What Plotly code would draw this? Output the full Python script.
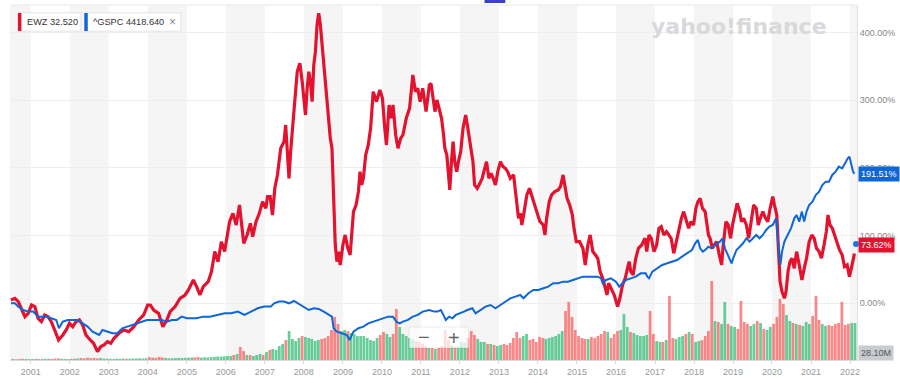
import numpy as np
import pandas as pd
import plotly.graph_objects as go
from datetime import datetime

# ---------------- data ----------------
# EWZ, % change since start (decimal year, percent)
ewz_t = [2000.492, 2000.594, 2000.679, 2000.763, 2000.848, 2000.933, 2001.017, 2001.102, 2001.186, 2001.271,
         2001.356, 2001.440, 2001.525, 2001.610, 2001.711, 2001.821, 2001.906, 2001.991, 2002.075, 2002.160,
         2002.245, 2002.329, 2002.414, 2002.524, 2002.609, 2002.710, 2002.795, 2002.880, 2002.964, 2003.049,
         2003.134, 2003.260, 2003.387, 2003.514, 2003.641, 2003.768, 2003.895, 2003.997, 2004.065, 2004.149,
         2004.276, 2004.386, 2004.488, 2004.572, 2004.699, 2004.826, 2004.953, 2005.038, 2005.165, 2005.250,
         2005.334, 2005.419, 2005.546, 2005.631, 2005.715,
         2005.799, 2005.884, 2005.968, 2006.053, 2006.095, 2006.180, 2006.265, 2006.349, 2006.408, 2006.459,
         2006.544, 2006.629, 2006.688, 2006.773, 2006.857, 2006.942, 2007.026, 2007.069, 2007.136, 2007.196,
         2007.255, 2007.323, 2007.407, 2007.492, 2007.534, 2007.577, 2007.619, 2007.661, 2007.729, 2007.788,
         2007.831, 2007.898, 2007.958, 2008.000, 2008.042, 2008.085, 2008.127, 2008.169, 2008.212, 2008.254,
         2008.296, 2008.338, 2008.381, 2008.423, 2008.466, 2008.508, 2008.550, 2008.592, 2008.635, 2008.677,
         2008.719, 2008.762, 2008.804, 2008.846, 2008.889, 2008.931, 2008.999, 2009.058, 2009.126, 2009.185,
         2009.227, 2009.270, 2009.337, 2009.397, 2009.439, 2009.481, 2009.524, 2009.583, 2009.650, 2009.710,
         2009.777, 2009.862, 2009.947, 2010.014, 2010.074, 2010.116, 2010.184, 2010.243, 2010.285, 2010.353,
         2010.412, 2010.480, 2010.539, 2010.624, 2010.709, 2010.793, 2010.861, 2010.920, 2010.980, 2011.047,
         2011.132, 2011.217,
         2011.259, 2011.327, 2011.361, 2011.411, 2011.471, 2011.530, 2011.581, 2011.614, 2011.665, 2011.699,
         2011.741, 2011.784, 2011.826, 2011.868, 2011.919, 2011.962, 2012.021, 2012.080, 2012.148, 2012.190,
         2012.249, 2012.292, 2012.334, 2012.376, 2012.444, 2012.512, 2012.571, 2012.613, 2012.681, 2012.740,
         2012.800, 2012.850, 2012.910, 2012.969, 2013.037, 2013.104, 2013.164, 2013.223, 2013.291, 2013.375,
         2013.443, 2013.502, 2013.545, 2013.587, 2013.646, 2013.714, 2013.782, 2013.841, 2013.900, 2013.968,
         2014.052, 2014.137, 2014.179, 2014.222, 2014.289, 2014.349, 2014.433, 2014.518, 2014.577, 2014.645,
         2014.687, 2014.746, 2014.814, 2014.882, 2014.924, 2014.983, 2015.068, 2015.153, 2015.212, 2015.280,
         2015.339, 2015.407, 2015.475, 2015.534, 2015.593, 2015.661, 2015.728, 2015.771, 2015.813, 2015.872,
         2015.957, 2016.042, 2016.101, 2016.169, 2016.237, 2016.296, 2016.338, 2016.381, 2016.440, 2016.507,
         2016.575, 2016.659, 2016.744,
         2016.787, 2016.846, 2016.905, 2016.973, 2017.041, 2017.100, 2017.159, 2017.227, 2017.295, 2017.354,
         2017.413, 2017.481, 2017.549, 2017.608, 2017.676, 2017.735, 2017.794, 2017.862, 2017.921, 2017.989,
         2018.048, 2018.099, 2018.158, 2018.217, 2018.285, 2018.327, 2018.370, 2018.412, 2018.471, 2018.522,
         2018.581, 2018.649, 2018.708, 2018.750, 2018.818, 2018.877, 2018.937, 2018.987, 2019.047, 2019.106,
         2019.174, 2019.216, 2019.275, 2019.343, 2019.402, 2019.470, 2019.529, 2019.597, 2019.648, 2019.699,
         2019.766, 2019.834, 2019.893, 2019.953, 2020.020, 2020.063, 2020.122, 2020.173, 2020.206, 2020.257,
         2020.317, 2020.359, 2020.410, 2020.460, 2020.511, 2020.570, 2020.630, 2020.697, 2020.765, 2020.824,
         2020.884, 2020.951, 2021.019, 2021.078, 2021.138, 2021.205, 2021.265, 2021.332, 2021.391, 2021.434,
         2021.485, 2021.544, 2021.603, 2021.671, 2021.730, 2021.798, 2021.857, 2021.925, 2021.984, 2022.052,
         2022.112]
ewz_pct = [4.9, 7.4, 2.5, -9.9, -19.7, -14.8, -2.5, -4.9, -22.2, -27.1,
           -17.2, -19.7, -27.1, -39.4, -54.2, -46.8, -39.4, -29.6, -34.5, -27.1,
           -24.6, -32.0, -46.8, -54.2, -59.1, -71.4, -64.0, -61.6, -56.7, -59.1,
           -51.7, -44.3, -39.4, -41.9, -34.5, -24.6, -17.2, -2.5, -2.5, -9.9,
           -14.8, -34.5, -24.6, -12.3, -4.9, 7.4, 12.3, 19.7, 34.5, 24.6,
           12.3, 24.6, 32.0, 46.8, 76.4,
           61.6, 91.1, 76.4, 105.9, 120.7, 133.0, 115.8, 145.3, 115.8, 88.7,
           101.0, 118.2, 98.5, 120.7, 133.0, 150.2, 140.4, 157.6, 157.6, 130.5,
           170.0, 189.7, 229.1, 238.9, 263.5, 229.1, 184.7, 224.1, 278.3, 312.8,
           342.4, 354.7, 327.6, 303.0, 278.3, 317.7, 342.4, 327.6, 298.0, 352.2,
           371.9, 411.3, 428.6, 411.3, 381.8, 352.2, 322.7, 307.9, 278.3, 243.8,
           229.1, 145.3, 86.2, 61.6, 76.4, 56.7, 86.2, 101.0, 81.3, 71.4,
           105.9, 135.5, 145.3, 165.0, 194.6, 174.9, 184.7, 219.2, 234.0, 258.6,
           312.8, 298.0, 315.3, 303.0, 258.6, 234.0, 293.1, 273.4, 293.1, 248.8,
           229.1, 243.8, 248.8, 273.4, 288.2, 337.4, 312.8, 317.7, 298.0, 317.7,
           283.3, 322.7,
           325.1, 298.0, 283.3, 300.5, 288.2, 273.4, 248.8, 229.1, 219.2, 194.6,
           167.5, 209.4, 238.9, 209.4, 194.6, 209.4, 224.1, 258.6, 278.3, 263.5,
           238.9, 229.1, 209.4, 174.9, 170.0, 177.3, 184.7, 194.6, 209.4, 184.7,
           192.1, 184.7, 174.9, 194.6, 209.4, 202.0, 199.5, 194.6, 184.7, 189.7,
           160.1, 125.6, 133.0, 115.8, 135.5, 160.1, 170.0, 160.1, 150.2, 135.5,
           120.7, 115.8, 101.0, 125.6, 150.2, 160.1, 165.0, 167.5, 172.4, 189.7,
           174.9, 155.2, 145.3, 130.5, 110.8, 91.1, 91.1, 81.3, 56.7, 86.2,
           101.0, 76.4, 71.4, 66.5, 46.8, 36.9, 22.2, 12.3, 29.6, 22.2,
           12.3, -4.9, 7.4, 27.1, 36.9, 51.7, 61.6, 46.8, 41.9, 66.5,
           81.3, 86.2, 96.1,
           76.4, 101.0, 96.1, 76.4, 86.2, 110.8, 113.3, 101.0, 105.9, 101.0,
           96.1, 73.9, 91.1, 110.8, 125.6, 135.5, 125.6, 110.8, 120.7, 115.8,
           140.4, 150.2, 155.2, 140.4, 135.5, 120.7, 101.0, 96.1, 81.3, 86.2,
           91.1, 71.4, 56.7, 86.2, 120.7, 115.8, 96.1, 115.8, 130.5, 147.8,
           135.5, 120.7, 125.6, 115.8, 96.1, 125.6, 145.3, 140.4, 115.8, 125.6,
           135.5, 125.6, 120.7, 140.4, 157.6, 145.3, 130.5, 71.4, 32.0, 17.2,
           7.4, 17.2, 46.8, 61.6, 66.5, 51.7, 76.4, 56.7, 34.5, 51.7,
           66.5, 91.1, 101.0, 96.1, 81.3, 76.4, 66.5, 86.2, 105.9, 130.5,
           115.8, 110.8, 101.0, 91.1, 78.8, 71.4, 54.2, 56.7, 39.4, 56.7,
           73.62]

# ^GSPC, % change since start
spx_t = [2000.492, 2000.594, 2000.679, 2000.806, 2000.933, 2001.060, 2001.186, 2001.271, 2001.398, 2001.525,
         2001.652, 2001.720, 2001.821, 2001.948, 2002.075, 2002.202, 2002.329, 2002.456, 2002.583, 2002.753,
         2002.837, 2002.964, 2003.091, 2003.218, 2003.345, 2003.472, 2003.599, 2003.726, 2003.853, 2003.980,
         2004.107, 2004.234, 2004.361, 2004.488, 2004.615, 2004.742, 2004.869, 2004.996, 2005.123, 2005.250,
         2005.419, 2005.588,
         2005.968, 2006.137, 2006.307, 2006.476, 2006.645, 2006.814, 2006.984, 2007.153, 2007.238, 2007.365,
         2007.492, 2007.619, 2007.746, 2007.873, 2008.000, 2008.127, 2008.254, 2008.381, 2008.508, 2008.635,
         2008.719, 2008.762, 2008.846, 2008.973, 2009.100, 2009.168, 2009.270, 2009.397, 2009.524, 2009.650,
         2009.777, 2009.904, 2010.031, 2010.158, 2010.285, 2010.370, 2010.455, 2010.539, 2010.666, 2010.793,
         2010.920, 2011.047, 2011.217,
         2011.344, 2011.428, 2011.513, 2011.598, 2011.640, 2011.725, 2011.809, 2011.894, 2012.021, 2012.105,
         2012.190, 2012.317, 2012.402, 2012.529, 2012.656, 2012.783, 2012.910, 2013.037, 2013.164, 2013.291,
         2013.418, 2013.545, 2013.629, 2013.756, 2013.883, 2014.010, 2014.137, 2014.264, 2014.391, 2014.518,
         2014.645, 2014.772, 2014.899, 2015.026, 2015.153, 2015.280, 2015.407, 2015.534, 2015.618, 2015.661,
         2015.745, 2015.872, 2015.999, 2016.084, 2016.169, 2016.253, 2016.380, 2016.507, 2016.634, 2016.761,
         2016.804, 2016.846, 2016.931, 2017.058, 2017.185, 2017.312, 2017.439, 2017.565, 2017.692, 2017.819,
         2017.946, 2018.031, 2018.099, 2018.158, 2018.226, 2018.285, 2018.370, 2018.454, 2018.539, 2018.666,
         2018.734, 2018.793, 2018.878, 2018.962, 2019.005, 2019.089, 2019.174, 2019.258, 2019.343, 2019.428,
         2019.512, 2019.597, 2019.682, 2019.766, 2019.851, 2019.935, 2020.020, 2020.105, 2020.147, 2020.215,
         2020.257, 2020.317, 2020.401, 2020.486, 2020.570, 2020.630, 2020.697, 2020.765, 2020.824, 2020.884,
         2020.951, 2021.036, 2021.120, 2021.205, 2021.290, 2021.374, 2021.459, 2021.544, 2021.628, 2021.713,
         2021.798, 2021.882, 2021.942, 2021.984, 2022.035, 2022.077, 2022.112]
spx_pct = [0.0, 0.0, -4.9, -9.9, -12.3, -12.3, -19.7, -19.7, -19.7, -22.2,
           -24.6, -36.9, -27.1, -24.6, -24.6, -24.6, -29.6, -34.5, -41.9, -46.8,
           -39.4, -41.9, -44.3, -44.3, -36.9, -34.5, -32.0, -29.6, -27.1, -24.6,
           -24.6, -24.6, -24.6, -27.1, -24.6, -24.6, -19.7, -22.2, -22.2, -22.2,
           -19.7, -19.7,
           -14.8, -14.8, -12.3, -17.2, -12.3, -7.4, -4.9, -4.9, 0.0, 2.5,
           2.5, 0.0, 3.4, -1.0, -4.9, -9.9, -7.4, -8.4, -12.3, -17.2,
           -19.7, -36.9, -41.9, -44.3, -46.8, -54.2, -41.9, -36.9, -34.5, -29.6,
           -27.1, -24.6, -22.2, -19.7, -19.7, -27.1, -29.6, -27.1, -24.6, -19.7,
           -17.2, -12.3, -9.9,
           -12.3, -12.3, -9.9, -19.7, -24.6, -19.7, -22.2, -17.2, -14.8, -12.3,
           -9.9, -7.4, -14.8, -9.9, -4.9, -2.5, -7.4, -2.5, 2.5, 7.4,
           9.9, 12.3, 7.4, 14.8, 19.7, 19.7, 22.2, 24.6, 29.6, 29.6,
           32.0, 32.0, 34.5, 36.9, 39.4, 39.4, 39.4, 39.4, 36.9, 29.6,
           34.5, 36.9, 32.0, 24.6, 29.6, 34.5, 36.9, 39.4, 44.3, 44.3,
           39.4, 36.9, 46.8, 51.7, 56.7, 59.1, 61.6, 64.0, 69.0, 73.9,
           78.8, 88.7, 93.6, 81.3, 76.4, 78.8, 83.7, 81.3, 86.2, 91.1,
           96.1, 81.3, 71.4, 59.1, 66.5, 78.8, 83.7, 88.7, 96.1, 91.1,
           96.1, 101.0, 96.1, 101.0, 108.4, 113.3, 115.8, 125.6, 96.1, 56.7,
           76.4, 91.1, 101.0, 110.8, 125.6, 130.5, 120.7, 135.5, 120.7, 135.5,
           145.3, 150.2, 160.1, 165.0, 174.9, 179.8, 179.8, 189.7, 194.6, 202.0,
           199.5, 209.4, 214.3, 216.7, 204.4, 194.6, 191.51]

# EWZ volume, millions of shares per month, starting July 2000
vol_start = "2000-07-01"
vol_m = [0.8, 0.6, 0.7, 0.9, 0.8, 0.7,
         0.8, 0.9, 0.7, 0.8, 1.0, 0.9, 0.8, 1.1, 1.2, 0.9, 0.8, 0.7,
         0.9, 1.0, 1.2, 1.5, 1.3, 1.8, 1.4, 1.6, 1.2, 1.5, 1.1, 1.0,
         0.9, 0.8, 0.9, 1.0, 1.1, 0.9, 1.0, 1.2, 1.1, 1.3, 1.2, 1.4,
         2.2, 1.8, 1.6, 2.4, 2.0, 1.5, 1.3, 1.4, 1.5, 1.6, 1.5, 1.7,
         1.8, 1.9, 2.0, 2.3, 1.8, 2.0, 1.9, 2.2, 2.4, 2.6, 2.5, 2.8,
         3.0, 3.0, 3.8, 4.6, 9.9, 6.8, 3.8, 3.8, 3.0, 3.8, 4.6, 3.8,
         6.1, 7.6, 8.4, 7.6, 10.6, 12.2, 15.2, 22.0, 16.0, 14.4, 16.7, 18.2,
         17.5, 16.7, 16.0, 14.4, 15.2, 16.0, 16.7, 18.2, 22.8, 32.7, 27.4, 22.0,
         22.8, 22.0, 20.5, 19.8, 18.2, 18.2, 18.2, 16.7, 15.2, 14.4, 16.7, 19.0,
         21.3, 19.8, 17.5, 19.8, 38.8, 25.1, 19.8, 18.2, 16.7, 16.0, 14.4, 13.7,
         12.2, 10.6, 9.1, 9.1, 8.4, 9.1, 10.6, 22.8, 15.2, 11.4, 9.9, 9.9,
         13.7, 12.9, 16.7, 22.0, 19.0, 16.0, 13.7, 13.7, 12.2, 12.2, 11.4, 10.6,
         11.4, 12.2, 11.4, 12.9, 16.7, 21.3, 16.7, 18.2, 19.8, 15.2, 16.0, 13.7,
         17.5, 16.7, 16.0, 16.7, 17.5, 18.2, 19.8, 22.0, 37.2, 44.1, 32.7, 22.8,
         18.2, 16.7, 16.0, 16.0, 17.5, 16.7, 18.2, 19.8, 22.0, 21.3, 16.7, 19.8,
         22.0, 22.8, 35.0, 25.1, 21.3, 20.5, 19.0, 18.2, 18.2, 19.0, 37.2, 19.8,
         14.4, 13.7, 13.7, 15.2, 48.6, 16.7, 16.0, 17.5, 18.2, 19.8, 21.3, 19.8,
         13.7, 14.4, 15.2, 18.2, 22.0, 60.0, 29.6, 28.9, 27.4, 44.1, 27.4, 25.8,
         25.1, 23.6, 44.8, 28.9, 27.4, 25.8, 27.4, 29.6, 28.1, 23.6, 22.8, 25.1,
         27.4, 32.7, 46.4, 42.6, 34.2, 29.6, 28.1, 27.4, 26.6, 25.8, 28.9, 27.4,
         33.4, 48.6, 30.4, 27.4, 25.8, 26.6, 25.8, 27.4, 28.1, 44.1, 26.6, 27.4,
         28.1, 28.10]

year_ticks = list(range(2001, 2023))
pct_ticks = [0, 100, 200, 300, 400]
x_start, x_end = 2000.467, 2022.178

RED = "#e3132f"
BLUE = "#0f66d6"


def dec_to_dt(y):
    yr = int(np.floor(y))
    a, b = datetime(yr, 1, 1), datetime(yr + 1, 1, 1)
    return a + (b - a) * (y - yr)


ewz_x = [dec_to_dt(v) for v in ewz_t]
spx_x = [dec_to_dt(v) for v in spx_t]

months = pd.date_range(vol_start, periods=len(vol_m), freq="MS")
vol_x = months + pd.Timedelta(days=15)


def to_dec(ts):
    return ts.year + (ts.dayofyear - 1) / (366 if ts.is_leap_year else 365)


vcol = []
for m in months:
    a = to_dec(m)
    b = to_dec(m + pd.offsets.MonthEnd(0))
    up = np.interp(b, ewz_t, ewz_pct) >= np.interp(a, ewz_t, ewz_pct)
    vcol.append("rgba(40,185,110,0.7)" if up else "rgba(250,85,85,0.7)")

# ---------------- figure ----------------
W, H = 900, 383
ML, MR, MT, MB = 10, 35, 5, 23
PW, PH = W - ML - MR, H - MT - MB


def px(xp):
    return (xp - ML) / PW


def py(yp):
    return (H - MB - yp) / PH


fig = go.Figure()
fig.add_trace(go.Bar(x=vol_x, y=vol_m, marker=dict(color=vcol, line=dict(width=0)),
                     width=26 * 86400000, yaxis="y", hoverinfo="skip"))
fig.add_trace(go.Scatter(x=ewz_x, y=ewz_pct, mode="lines", yaxis="y2",
                         line=dict(color=RED, width=3.2), hoverinfo="skip"))
fig.add_trace(go.Scatter(x=spx_x, y=spx_pct, mode="lines", yaxis="y2",
                         line=dict(color=BLUE, width=2), hoverinfo="skip"))

shapes = []
# alternating year bands (even years shaded)
band_edges = [x_start] + year_ticks + [x_end]
for i in range(len(band_edges) - 1):
    y0 = int(np.floor(band_edges[i]))
    if y0 % 2 == 0:
        shapes.append(dict(type="rect", xref="x", yref="paper",
                           x0=dec_to_dt(band_edges[i]), x1=dec_to_dt(band_edges[i + 1]),
                           y0=0, y1=1, fillcolor="#f5f5f5", line=dict(width=0), layer="below"))
# top border
shapes.append(dict(type="line", xref="paper", yref="paper", x0=0, x1=1, y0=1, y1=1,
                   line=dict(color="#e8e8e8", width=1)))
# legend chips
for (x0, x1, col) in [(18, 81, RED), (85, 182, BLUE)]:
    shapes.append(dict(type="rect", xref="paper", yref="paper", x0=px(x0), x1=px(x1) + 0.0015,
                       y0=py(32), y1=py(12), fillcolor="rgba(0,0,0,0.05)", line=dict(width=0)))
    shapes.append(dict(type="rect", xref="paper", yref="paper", x0=px(x0), x1=px(x1),
                       y0=py(31), y1=py(13), fillcolor="white", line=dict(color="#ececec", width=1)))
    shapes.append(dict(type="rect", xref="paper", yref="paper", x0=px(x0), x1=px(x0 + 3.5),
                       y0=py(31), y1=py(13), fillcolor=col, line=dict(width=0)))
# zoom widget
shapes.append(dict(type="rect", xref="paper", yref="paper", x0=px(413), x1=px(473),
                   y0=py(348), y1=py(327), fillcolor="rgba(255,255,255,0.72)",
                   line=dict(color="rgba(0,0,0,0.07)", width=1)))
# top blue marker
shapes.append(dict(type="rect", xref="paper", yref="paper", x0=px(489), x1=px(510),
                   y0=py(3), y1=py(0), fillcolor="#3c3fd6", line=dict(width=0)))
# blue dot at right edge
shapes.append(dict(type="circle", xref="paper", yref="paper", x0=px(861), x1=px(867),
                   y0=py(247), y1=py(241), fillcolor="#1a73e8", line=dict(width=0)))

FONT = "Liberation Sans, Arial, sans-serif"
ann = []
ann.append(dict(text="EWZ 32.520", x=px(25), y=py(22), xref="paper", yref="paper",
                xanchor="left", yanchor="middle", showarrow=False,
                font=dict(size=9.2, color="#333", family=FONT)))
ann.append(dict(text="^GSPC 4418.640", x=px(92), y=py(22), xref="paper", yref="paper",
                xanchor="left", yanchor="middle", showarrow=False,
                font=dict(size=9.2, color="#333", family=FONT)))
ann.append(dict(text="×", x=px(174), y=py(22), xref="paper", yref="paper",
                xanchor="center", yanchor="middle", showarrow=False,
                font=dict(size=12, color="#888", family=FONT)))
ann.append(dict(text="<b>yahoo!finance</b>", x=px(746), y=py(26), xref="paper", yref="paper",
                xanchor="center", yanchor="middle", showarrow=False,
                font=dict(size=22, color="#d9d9dc", family="DejaVu Sans")))
ann.append(dict(text="−", x=px(428), y=py(337), xref="paper", yref="paper",
                xanchor="center", yanchor="middle", showarrow=False,
                font=dict(size=20, color="#666", family=FONT)))
ann.append(dict(text="+", x=px(458), y=py(338), xref="paper", yref="paper",
                xanchor="center", yanchor="middle", showarrow=False,
                font=dict(size=20, color="#666", family=FONT)))
ann.append(dict(text=f"{spx_pct[-1]:.2f}%", x=px(866), y=spx_pct[-1], xref="paper", yref="y2",
                xanchor="left", yanchor="middle", showarrow=False, bgcolor="#0f66d6",
                borderpad=2, font=dict(size=9, color="white", family=FONT)))
ann.append(dict(text=f"{ewz_pct[-1]:.2f}%", x=px(866), y=ewz_pct[-1], yshift=8, xref="paper", yref="y2",
                xanchor="left", yanchor="middle", showarrow=False, bgcolor="#e3132f",
                borderpad=2, font=dict(size=9, color="white", family=FONT)))
ann.append(dict(text=f"{vol_m[-1]:.2f}M", x=px(866), y=py(353), xref="paper", yref="paper",
                xanchor="left", yanchor="middle", showarrow=False, bgcolor="#c9cbd0",
                borderpad=2, font=dict(size=9, color="#555", family=FONT)))

y2_lo = -83.8
y2_hi = 440.9
fig.update_layout(
    width=W, height=H, margin=dict(l=ML, r=MR, t=MT, b=MB),
    paper_bgcolor="white", plot_bgcolor="white", showlegend=False,
    hovermode=False, bargap=0.1,
    font=dict(family=FONT),
    shapes=shapes, annotations=ann,
    xaxis=dict(type="date", range=[dec_to_dt(x_start), dec_to_dt(x_end)],
               tickvals=[datetime(y, 1, 1) for y in year_ticks],
               ticktext=[str(y) for y in year_ticks],
               showgrid=False, zeroline=False, showline=True, linecolor="#dcdcdc",
               ticks="outside", ticklen=3, tickcolor="#d8d8d8",
               tickfont=dict(size=9, color="#999", family=FONT)),
    yaxis=dict(range=[0, 269.6], visible=False, fixedrange=True),
    yaxis2=dict(overlaying="y", side="right", range=[y2_lo, y2_hi],
                tickvals=pct_ticks, ticktext=[f"{v:.2f}%" for v in pct_ticks],
                showgrid=True, gridcolor="#eeeeee", zeroline=False,
                showline=True, linecolor="#e0e0e0", ticks="",
                tickfont=dict(size=9, color="#888", family=FONT)),
)

fig.write_html("out.html", config={"displayModeBar": False},
               post_script="document.body.style.margin='0';document.body.style.overflow='hidden';")
